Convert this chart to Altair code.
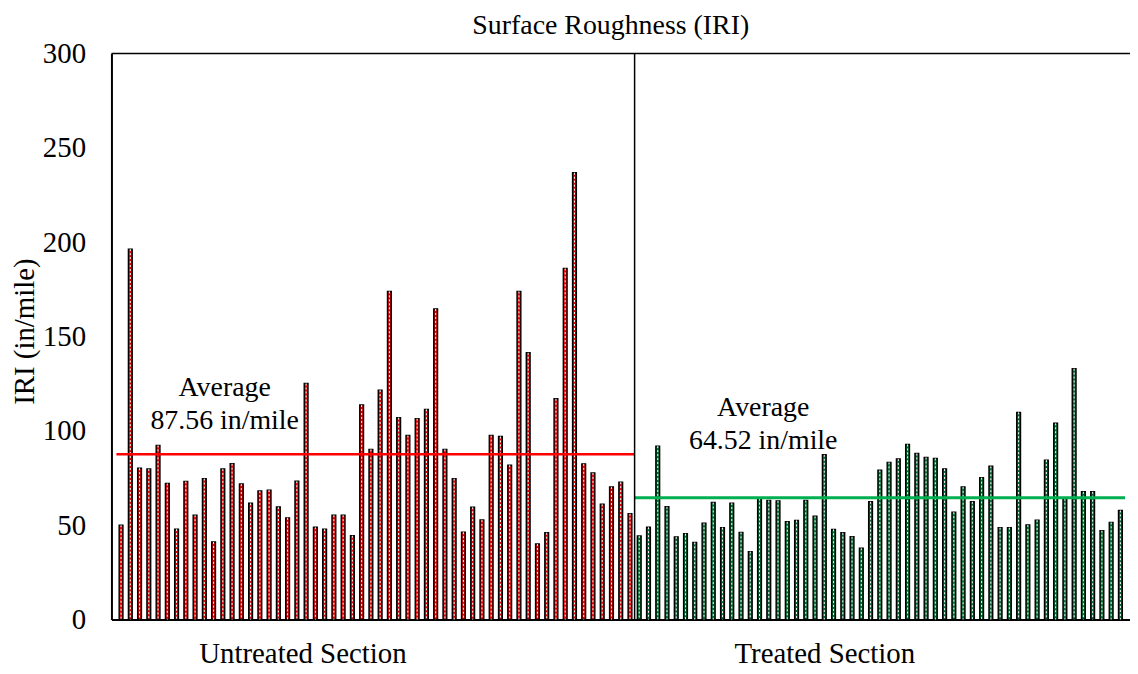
import altair as alt
import pandas as pd

# ---- data ----
untreated = [50, 196.3, 80.2, 79.8, 92.3, 72.1, 47.9, 73.2, 55.3, 74.7,
             41.1, 79.8, 82.6, 71.8, 61.6, 68.1, 68.6, 59.6, 53.9, 73.3,
             125.1, 48.9, 47.9, 55.3, 55.3, 44.4, 113.7, 90.2, 121.6, 173.9,
             107.0, 97.5, 106.5, 111.4, 164.6, 90.2, 74.7, 46.3, 59.5, 52.8,
             97.5, 97.0, 81.8, 173.9, 141.4, 40.0, 46.0, 117.0, 186.1, 236.8,
             82.5, 77.7, 61.1, 70.2, 72.8, 56.1]
treated = [44.3, 48.9, 91.9, 59.8, 43.8, 45.5, 40.9, 51.0, 62.0, 48.7,
           61.7, 46.2, 36.0, 64.1, 63.1, 62.9, 51.8, 52.5, 63.1, 54.7,
           87.3, 47.8, 46.0, 43.9, 37.8, 62.4, 79.1, 83.3, 85.1, 92.8,
           88.0, 85.9, 85.4, 79.8, 56.9, 70.3, 62.4, 75.2, 81.2, 48.7,
           48.7, 109.8, 50.1, 52.7, 84.5, 104.0, 64.0, 133.0, 67.7, 67.7,
           47.1, 51.5, 57.8]
sections = ["Untreated Section", "Treated Section"]
averages = [87.56, 64.52]
avg_labels = ["Average\n87.56 in/mile", "Average\n64.52 in/mile"]
y_ticks = [0, 50, 100, 150, 200, 250, 300]

n_u = len(untreated)
n_t = len(treated)
n = n_u + n_t
vals = untreated + treated
bars = pd.DataFrame({
    "idx": list(range(n)),
    "val": vals,
    "section": [sections[0]] * n_u + [sections[1]] * n_t,
})

split = n_u - 0.5
lo, hi = -0.5, n - 0.5
avg_df = pd.DataFrame({
    "idx": [lo, split], "idx2": [split, hi], "val": averages,
    "section": sections,
})
div_df = pd.DataFrame({"idx": [split]})
ann_df = pd.DataFrame({"idx": [11.2, 69.4], "val": [122.5, 112.0],
                       "label": avg_labels})
top_df = pd.DataFrame({"val": [300]})

FONT = "Liberation Serif"

xscale = alt.Scale(domain=[lo, hi], nice=False, zero=False)
yscale = alt.Scale(domain=[0, 300], nice=False)

x_axis = alt.Axis(
    values=[19.6, 76.0],
    labelExpr="datum.value < 50 ? 'Untreated Section' : 'Treated Section'",
    ticks=False, tickSize=0, grid=False, domain=True, domainColor="black",
    domainWidth=2, title=None, labelFont=FONT, labelFontSize=29,
    labelColor="black", labelPadding=43, labelBaseline="alphabetic",
    labelFlush=False, labelOverlap=False, labelLimit=0,
)
y_axis = alt.Axis(
    values=y_ticks, ticks=False, tickSize=0, grid=False, domain=True,
    domainColor="black", domainWidth=2, title="IRI (in/mile)",
    labelFont=FONT, labelFontSize=29, labelColor="black", labelPadding=26,
    titleFont=FONT, titleFontSize=29, titleFontWeight="normal",
    titleColor="black", titleX=-78, titleY=279, titleBaseline="alphabetic",
    titleAngle=270,
)

color_scale = alt.Scale(domain=sections, range=["#e00000", "#006b30"])

base = alt.Chart(bars)

bar_layer = base.mark_bar(size=3.8, stroke="black", strokeWidth=1.4).encode(
    x=alt.X("idx:Q", scale=xscale, axis=x_axis),
    y=alt.Y("val:Q", scale=yscale, axis=y_axis),
    color=alt.Color("section:N", scale=color_scale, legend=None),
)

dash_layer = base.mark_rule(color="white", strokeWidth=1,
                            strokeDash=[2, 2]).encode(
    x="idx:Q",
    y="val:Q",
    y2=alt.datum(0),
)

avg_layer = alt.Chart(avg_df).mark_rule().encode(
    x="idx:Q",
    x2="idx2:Q",
    y="val:Q",
    color=alt.Color("section:N",
                    scale=alt.Scale(domain=sections,
                                    range=["#ff0000", "#00b050"]),
                    legend=None),
    strokeWidth=alt.StrokeWidth("section:N",
                                scale=alt.Scale(domain=sections,
                                                range=[2.5, 3]),
                                legend=None),
)

div_layer = alt.Chart(div_df).mark_rule(color="black", strokeWidth=1.5).encode(
    x="idx:Q",
    y=alt.datum(0),
    y2=alt.datum(300),
)

top_layer = alt.Chart(top_df).mark_rule(color="black", strokeWidth=1.5).encode(
    y="val:Q",
)

ann_layer = alt.Chart(ann_df).mark_text(
    font=FONT, fontSize=28, color="black", align="center",
    baseline="middle", lineBreak="\n", lineHeight=33,
).encode(
    x="idx:Q",
    y="val:Q",
    text="label:N",
)

chart = alt.layer(
    bar_layer, dash_layer, avg_layer, div_layer, top_layer, ann_layer
).resolve_scale(color="independent").properties(
    width=1024,
    height=569,
    autosize=alt.AutoSizeParams(type="none"),
    padding={"left": 104, "top": 44, "right": 0, "bottom": 52},
    title=alt.Title(
        "Surface Roughness (IRI)", font=FONT, fontSize=28,
        fontWeight="normal", color="black", anchor="middle", dx=-10,
        frame="group", baseline="alphabetic", offset=-22,
    ),
).configure_view(stroke=None)

chart.save("out.html", embed_options={"renderer": "svg", "actions": False})
